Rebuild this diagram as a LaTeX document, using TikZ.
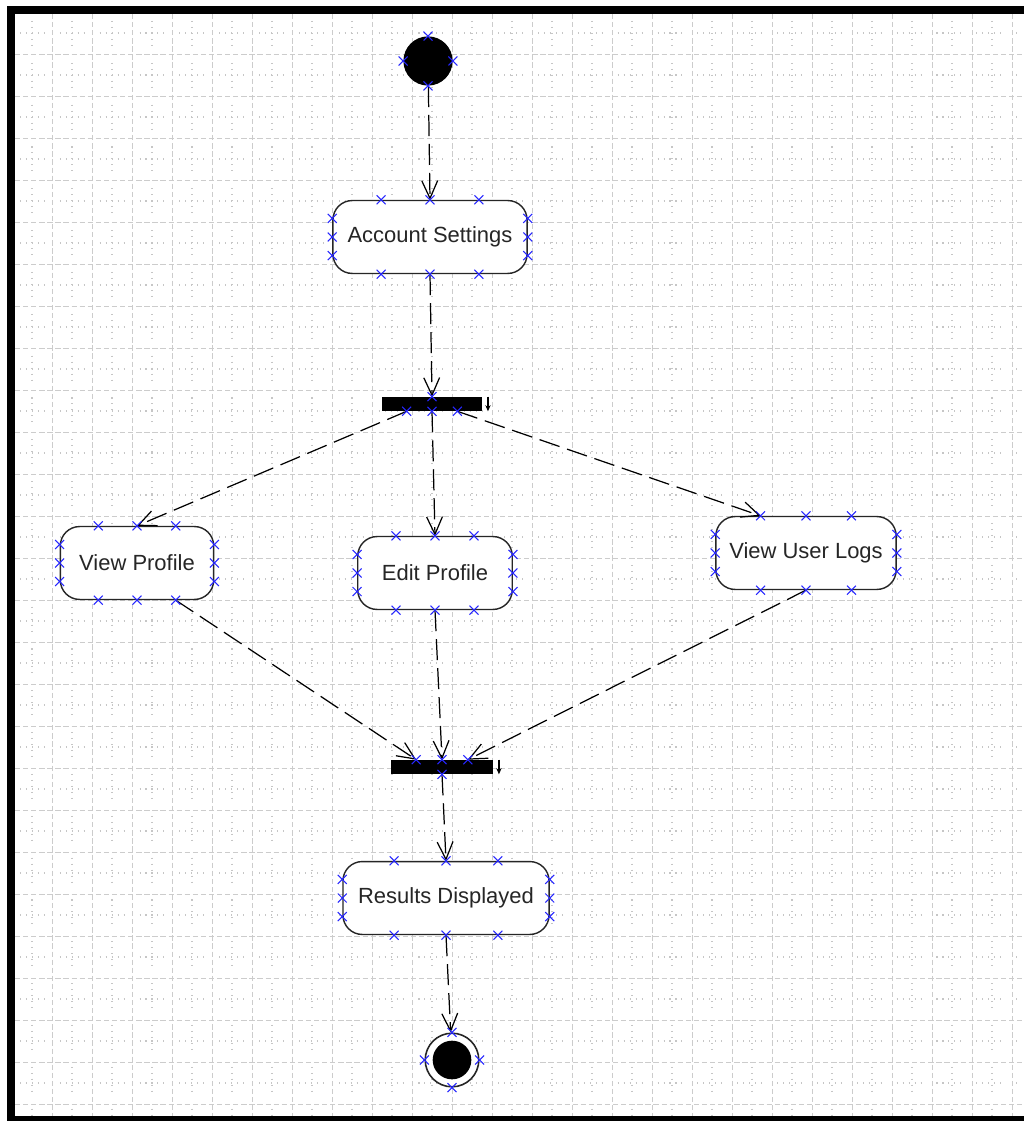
\documentclass[tikz,border=0pt]{standalone}
\usepackage{fontspec}
\setmainfont{Liberation Sans}
\usetikzlibrary{calc,shapes.misc,arrows.meta}

\tikzset{
  act/.style={draw=black!85, line width=0.8pt, fill=white, rounded corners=11pt,
    minimum height=41.5pt, inner sep=0pt, font=\fontsize{12.5}{15}\selectfont, text=black!85},
  bar/.style={fill=black, minimum height=7.9pt, inner sep=0pt},
  flow/.style={-{Straight Barb[length=10pt,width=9pt]}, dash pattern=on 12pt off 4.5pt, line width=0.7pt},
  xmark/.style={cross out, draw=blue!85, line width=0.6pt, minimum size=4.5pt, inner sep=0pt},
  griddash/.style={gray!40, dash pattern=on 3pt off 1.6pt, line width=0.5pt},
  % little dotted crosses in the middle of each cell
  griddoth/.style={gray!45, line width=0.6pt, dash phase=18.14pt,
    dash pattern=on 0.6pt off 2.8pt on 0.6pt off 2.8pt on 0.6pt off 2.8pt on 0.6pt off 2.8pt on 0.6pt off 8.48pt},
  griddotv/.style={gray!45, line width=0.6pt, dash phase=18.71pt,
    dash pattern=on 0.6pt off 2.8pt on 0.6pt off 2.8pt on 0.6pt off 2.8pt on 0.6pt off 2.8pt on 0.6pt off 9.61pt},
  barflag/.style={-{Stealth[length=3.5pt,width=3pt]}, line width=0.8pt},
}

\begin{document}
\begin{tikzpicture}[x=0.02cm, y=-0.02cm]
    \useasboundingbox (0,0) rectangle (1024,1121);
    \fill[white] (0,0) rectangle (1024,1121);
    % grid
    \foreach \y in {33,75,...,1116} \draw[griddoth] (12,\y) -- (1022,\y);
    \foreach \x in {32,72,...,1012} \draw[griddotv] (\x,12) -- (\x,1116);
    \foreach \x in {52,92,...,1012} \draw[griddash] (\x,14) -- (\x,1116);
    \foreach \y in {54,96,...,1104} \draw[griddash] (15,\y) -- (1022,\y);
    \fill (7,6) rectangle (1024,14);
    \fill (7,6) rectangle (15,1121);
    \fill (7,1116) rectangle (1024,1121);

    % states
    \node[circle, fill=black, minimum size=28pt, inner sep=0pt] (start) at (428,61) {};
    \node[act, minimum width=110.5pt] (acct) at (430,237) {Account Settings};
    \node[bar, minimum width=57.3pt] (bar1) at (432,404) {};
    \node[act, minimum width=87.3pt] (vprof) at (137,563) {View Profile};
    \node[act, minimum width=87.9pt] (eprof) at (435,573) {Edit Profile};
    \node[act, minimum width=102.6pt] (vlogs) at (806,553) {View User Logs};
    \node[bar, minimum width=58.4pt] (bar2) at (442,767) {};
    \node[act, minimum width=117.3pt] (res) at (446,898) {Results Displayed};
    \node[circle, draw=black!85, line width=0.9pt, fill=white, minimum size=30.5pt, inner sep=0pt] (end) at (452,1060) {};
    \fill (end.center) circle (11pt);

    % connection points
    \foreach \n in {acct,vprof,eprof,vlogs,res}{
      \foreach \t [count=\i] in {0.25,0.5,0.75}{
        \coordinate (\n-n\i) at ($(\n.north west)!\t!(\n.north east)$);
        \coordinate (\n-s\i) at ($(\n.south west)!\t!(\n.south east)$);
        \coordinate (\n-w\i) at ($(\n.north west)!\t!(\n.south west)$);
        \coordinate (\n-e\i) at ($(\n.north east)!\t!(\n.south east)$);
      }
    }
    \coordinate (bar1-s1) at ($(bar1.south west)!0.25!(bar1.south east)$);
    \coordinate (bar1-s3) at ($(bar1.south west)!0.75!(bar1.south east)$);
    \coordinate (bar2-n1) at ($(bar2.north west)!0.25!(bar2.north east)$);
    \coordinate (bar2-n3) at ($(bar2.north west)!0.75!(bar2.north east)$);

    % flows
    \draw[flow] (start) -- (acct-n2);
    \draw[flow] (acct-s2) -- (bar1.north);
    \draw[flow] (bar1-s1) -- (vprof-n2);
    \draw[flow] (bar1.south) -- (eprof-n2);
    \draw[flow] (bar1-s3) -- (vlogs-n1);
    \draw[flow] (vprof-s3) -- (bar2-n1);
    \draw[flow] (eprof-s2) -- (bar2.north);
    \draw[flow] (vlogs-s2) -- (bar2-n3);
    \draw[flow] (bar2.south) -- (res-n2);
    \draw[flow] (res-s2) -- (end);
    \draw[barflag] ([xshift=3pt]bar1.north east) -- ([xshift=3pt]bar1.south east);
    \draw[barflag] ([xshift=3pt]bar2.north east) -- ([xshift=3pt]bar2.south east);

    % markers
    \foreach \n in {acct,vprof,eprof,vlogs,res}
      \foreach \s in {n,s,w,e}
        \foreach \i in {1,2,3}
          \node[xmark] at (\n-\s\i) {};
    \foreach \p in {start.north,start.south,start.west,start.east,
                    end.north,end.south,end.west,end.east,
                    bar1.north,bar1.south,bar1-s1,bar1-s3,
                    bar2.north,bar2.south,bar2-n1,bar2-n3}
      \node[xmark] at (\p) {};
\end{tikzpicture}
\end{document}
